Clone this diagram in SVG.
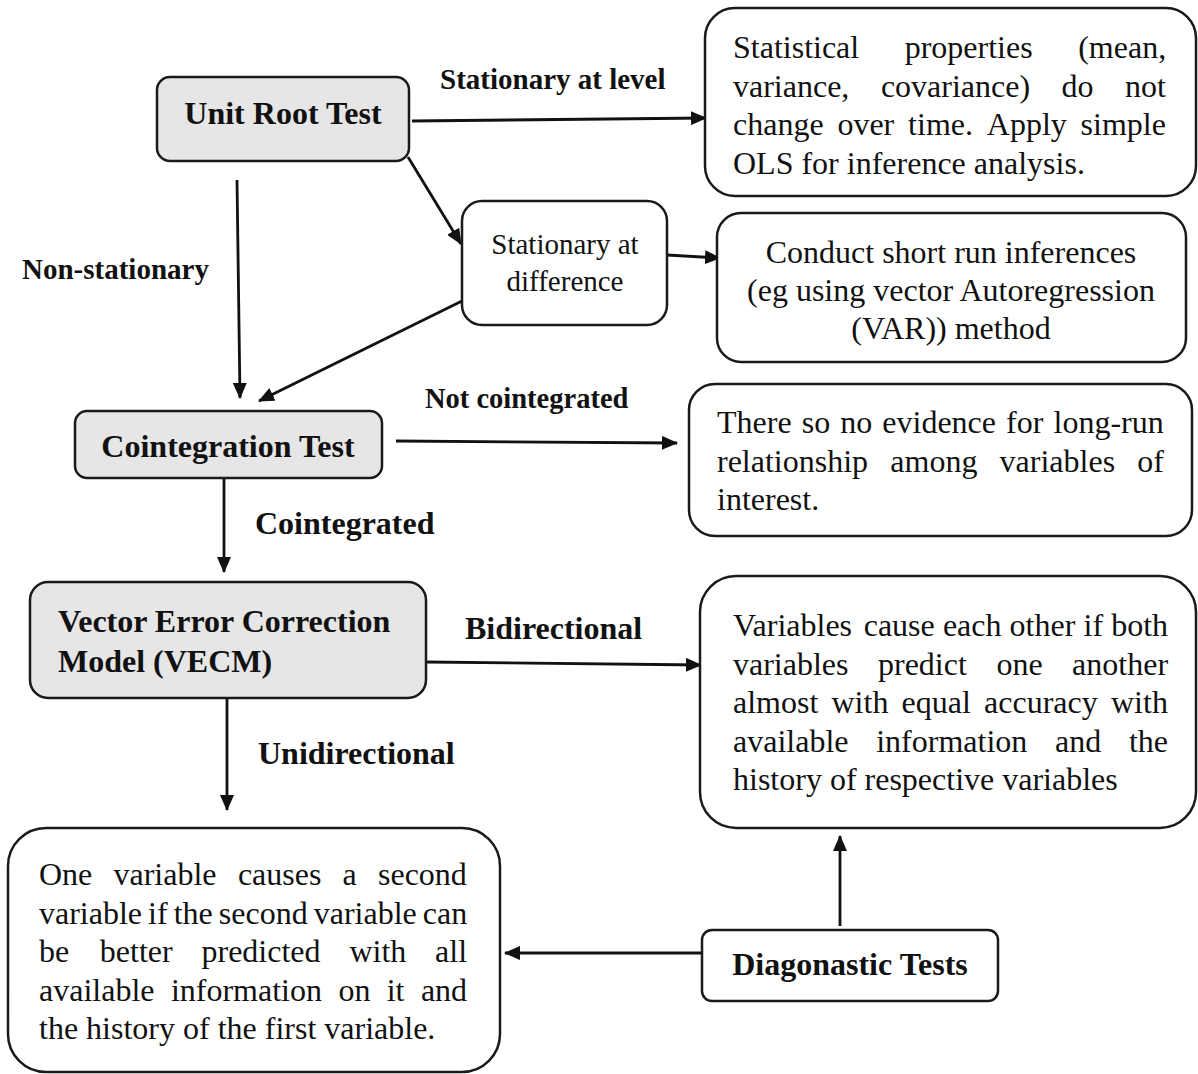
<svg xmlns="http://www.w3.org/2000/svg" width="1198" height="1074" viewBox="0 0 1198 1074">
<style>
.box{fill:#ffffff;stroke:#1a1a1a;stroke-width:2.5}
.grey{fill:#e6e6e6;stroke:#1a1a1a;stroke-width:2.5}
.t{font-family:"Liberation Serif","Times New Roman",serif;font-size:32px;fill:#111}
.b{font-family:"Liberation Serif","Times New Roman",serif;font-size:32px;font-weight:bold;fill:#111}
.lbl{font-family:"Liberation Serif","Times New Roman",serif;font-weight:bold;fill:#111}
.c{fill:none;stroke:#111;stroke-width:2.8}
</style>
<defs>
<marker id="ah" markerUnits="userSpaceOnUse" markerWidth="16" markerHeight="14" refX="15" refY="7" orient="auto">
<path d="M0,0 L16,7 L0,14 Z" fill="#111"/>
</marker>
</defs>
<rect width="1198" height="1074" fill="#ffffff"/>

<g id="connectors">
<line class="c" x1="412" y1="121" x2="706" y2="118" marker-end="url(#ah)"/>
<line class="c" x1="408" y1="157" x2="461" y2="244" marker-end="url(#ah)"/>
<line class="c" x1="667" y1="255" x2="720" y2="258" marker-end="url(#ah)"/>
<line class="c" x1="237" y1="180" x2="240" y2="398" marker-end="url(#ah)"/>
<line class="c" x1="464" y1="300" x2="259" y2="401" marker-end="url(#ah)"/>
<line class="c" x1="396" y1="441" x2="677" y2="443" marker-end="url(#ah)"/>
<line class="c" x1="224" y1="478" x2="224" y2="572" marker-end="url(#ah)"/>
<line class="c" x1="426" y1="662" x2="701" y2="665" marker-end="url(#ah)"/>
<line class="c" x1="227" y1="698" x2="227" y2="810" marker-end="url(#ah)"/>
<line class="c" x1="702" y1="953" x2="505" y2="953" marker-end="url(#ah)"/>
<line class="c" x1="840" y1="926" x2="840" y2="836" marker-end="url(#ah)"/>
<text class="lbl" font-size="29" x="440" y="89">Stationary at level</text>
<text class="lbl" font-size="29" x="22" y="279">Non-stationary</text>
<text class="lbl" font-size="28.5" x="425" y="408">Not cointegrated</text>
<text class="lbl" font-size="32" x="255" y="534">Cointegrated</text>
<text class="lbl" font-size="32" x="465" y="639">Bidirectional</text>
<text class="lbl" font-size="32" x="258" y="764">Unidirectional</text>
</g>

<g id="unit-root-test">
<rect class="grey" x="157" y="77" width="252" height="84" rx="13"/>
<text class="b" x="283" y="124" text-anchor="middle">Unit Root Test</text>
</g>

<g id="stationary-level-result">
<rect class="box" x="705" y="8" width="491" height="188" rx="30"/>
<text class="t" y="58"><tspan x="733">Statistical</tspan><tspan x="904.7">properties</tspan><tspan x="1078.2">(mean,</tspan></text>
<text class="t" y="96.5"><tspan x="733">variance,</tspan><tspan x="880.9">covariance)</tspan><tspan x="1061.6">do</tspan><tspan x="1125.1">not</tspan></text>
<text class="t" y="135"><tspan x="733">change</tspan><tspan x="837.4">over</tspan><tspan x="908.1">time.</tspan><tspan x="986.8">Apply</tspan><tspan x="1080.6">simple</tspan></text>
<text class="t" x="733" y="173.5">OLS for inference analysis.</text>
</g>

<g id="stationary-difference">
<rect class="box" x="462" y="201" width="205" height="124" rx="20"/>
<text class="t" font-size="29" style="font-size:29px" x="565" y="254" text-anchor="middle">Stationary at</text>
<text class="t" style="font-size:29px" x="565" y="291" text-anchor="middle">difference</text>
</g>

<g id="short-run">
<rect class="box" x="717" y="213" width="469" height="149" rx="24"/>
<text class="t" x="951" y="263" text-anchor="middle">Conduct short run inferences</text>
<text class="t" x="951" y="301" text-anchor="middle">(eg using vector Autoregression</text>
<text class="t" x="951" y="339" text-anchor="middle">(VAR)) method</text>
</g>

<g id="cointegration-test">
<rect class="grey" x="75" y="411" width="307" height="67" rx="12"/>
<text class="b" x="228" y="457" text-anchor="middle">Cointegration Test</text>
</g>

<g id="no-long-run">
<rect class="box" x="689" y="384" width="503" height="152" rx="26"/>
<text class="t" y="433"><tspan x="717">There</tspan><tspan x="801.7">so</tspan><tspan x="840.2">no</tspan><tspan x="882.3">evidence</tspan><tspan x="1006.1">for</tspan><tspan x="1053.5">long-run</tspan></text>
<text class="t" y="471.5"><tspan x="717">relationship</tspan><tspan x="890.3">among</tspan><tspan x="999.6">variables</tspan><tspan x="1137.3">of</tspan></text>
<text class="t" x="717" y="510">interest.</text>
</g>

<g id="vecm">
<rect class="grey" x="30" y="582" width="396" height="116" rx="18"/>
<text class="b" x="58" y="632">Vector Error Correction</text>
<text class="b" x="58" y="672">Model (VECM)</text>
</g>

<g id="bidirectional-result">
<rect class="box" x="700" y="576" width="496" height="252" rx="36"/>
<text class="t" y="636"><tspan x="733">Variables</tspan><tspan x="863.7">cause</tspan><tspan x="942.9">each</tspan><tspan x="1009.6">other</tspan><tspan x="1083.5">if</tspan><tspan x="1111.2">both</tspan></text>
<text class="t" y="674.5"><tspan x="733">variables</tspan><tspan x="878">predict</tspan><tspan x="996.4">one</tspan><tspan x="1072.1">another</tspan></text>
<text class="t" y="713"><tspan x="733">almost</tspan><tspan x="831.5">with</tspan><tspan x="901.6">equal</tspan><tspan x="984.1">accuracy</tspan><tspan x="1111">with</tspan></text>
<text class="t" y="751.5"><tspan x="733">available</tspan><tspan x="876.2">information</tspan><tspan x="1055">and</tspan><tspan x="1128.9">the</tspan></text>
<text class="t" x="733" y="790">history of respective variables</text>
</g>

<g id="unidirectional-result">
<rect class="box" x="8" y="828" width="492" height="244" rx="38"/>
<text class="t" y="885"><tspan x="39">One</tspan><tspan x="113.5">variable</tspan><tspan x="237.9">causes</tspan><tspan x="342.6">a</tspan><tspan x="378">second</tspan></text>
<text class="t" y="923.5"><tspan x="39">variable</tspan><tspan x="148.1">if</tspan><tspan x="173.7">the</tspan><tspan x="218.8">second</tspan><tspan x="313.7">variable</tspan><tspan x="422.8">can</tspan></text>
<text class="t" y="962"><tspan x="39">be</tspan><tspan x="99.8">better</tspan><tspan x="201.5">predicted</tspan><tspan x="349.4">with</tspan><tspan x="435.1">all</tspan></text>
<text class="t" y="1000.5"><tspan x="39">available</tspan><tspan x="170.9">information</tspan><tspan x="338.4">on</tspan><tspan x="386.7">it</tspan><tspan x="420.9">and</tspan></text>
<text class="t" x="39" y="1039">the history of the first variable.</text>
</g>

<g id="diagnostic-tests">
<rect class="box" x="702" y="930" width="296" height="71" rx="10"/>
<text class="b" x="850" y="975" text-anchor="middle">Diagonastic Tests</text>
</g>
</svg>
